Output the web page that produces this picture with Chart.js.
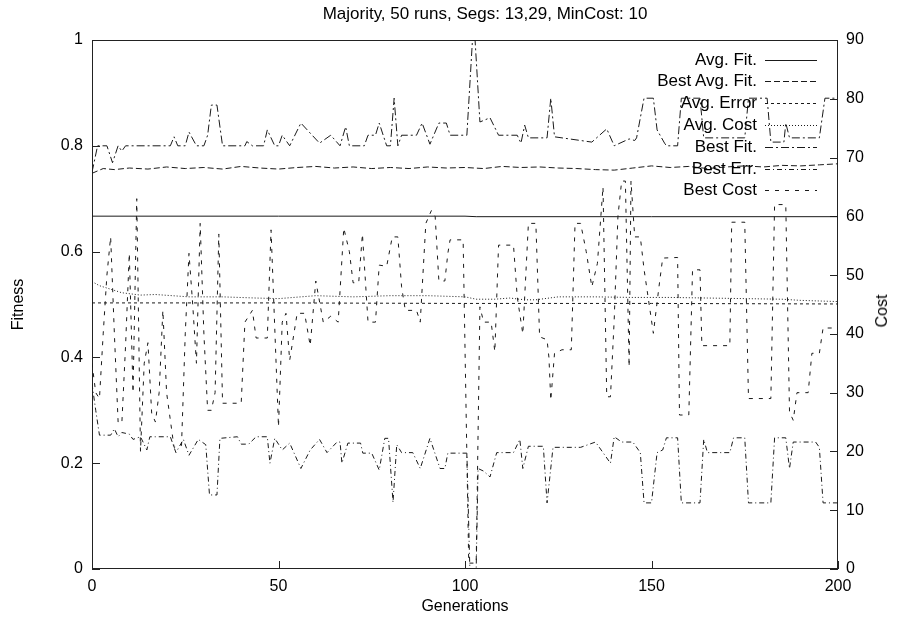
<!DOCTYPE html>
<html><head><meta charset="utf-8">
<script src="https://cdn.jsdelivr.net/npm/chart.js@4"></script>
<style>
html,body{margin:0;padding:0;background:#fff;}
#wrap{position:relative;width:897px;height:625px;overflow:hidden;font-family:"Liberation Sans",Arial,sans-serif;color:#000;}
canvas{display:block;}
.lt{position:absolute;font-size:17px;line-height:18px;white-space:nowrap;text-align:right;}
.ls{position:absolute;}
#title{position:absolute;top:4px;left:0;width:970px;text-align:center;font-size:17px;line-height:20px;white-space:nowrap;}
#costlab{position:absolute;left:882px;top:311px;font-size:16px;line-height:18px;white-space:nowrap;transform:translate(-50%,-50%) rotate(-90deg);}
</style></head><body>
<div id="wrap"><canvas id="c" width="897" height="625"></canvas>
<div id="title">Majority, 50 runs, Segs: 13,29, MinCost: 10</div>
<div id="costlab">Cost</div>
<div id="legend"></div></div>
<script>
// ---- tick labels ----
const genTicks = [0, 50, 100, 150, 200];
const fitnessTicks = [0, 0.2, 0.4, 0.6, 0.8, 1];
const costTicks = [0, 10, 20, 30, 40, 50, 60, 70, 80, 90];
const seriesNames = ["Avg. Fit.", "Best Avg. Fit.", "Avg. Error", "Avg. Cost", "Best Fit.", "Best Err.", "Best Cost"];

// ---- series (generation, value) ----
const avgFitGen = [0, 50, 100, 103, 150, 200];
const avgFitVal = [0.667, 0.667, 0.667, 0.666, 0.666, 0.666];

const bestAvgFitGen = [0, 3, 6, 10, 15, 20, 25, 30, 35, 40, 45, 50, 55, 60, 65, 70, 75, 80, 85, 90, 95, 100, 105, 110, 115, 120, 125, 130, 135, 140, 145, 150, 155, 160, 165, 170, 175, 180, 185, 190, 195, 200];
const bestAvgFitVal = [0.748, 0.757, 0.755, 0.758, 0.756, 0.760, 0.757, 0.759, 0.756, 0.761, 0.758, 0.756, 0.759, 0.761, 0.758, 0.760, 0.757, 0.759, 0.757, 0.760, 0.758, 0.759, 0.757, 0.761, 0.759, 0.760, 0.758, 0.757, 0.755, 0.754, 0.758, 0.762, 0.759, 0.761, 0.757, 0.760, 0.762, 0.760, 0.763, 0.762, 0.764, 0.766];

const avgErrGen = [0, 50, 100, 150, 200];
const avgErrVal = [0.503, 0.503, 0.502, 0.502, 0.501];

const avgCostGen = [0, 2, 5, 8, 13, 17, 26, 35, 44, 50, 60, 70, 80, 90, 100, 103, 108, 112, 116, 119, 125, 135, 145, 155, 165, 175, 185, 190, 195, 200];
const avgCostVal = [48.9, 48.2, 47.6, 47.0, 46.6, 46.7, 46.3, 46.3, 46.1, 46.0, 46.5, 46.3, 46.5, 46.5, 46.3, 45.9, 45.9, 46.1, 45.8, 45.8, 46.3, 46.3, 46.2, 46.2, 46.1, 46.0, 45.9, 45.7, 45.6, 45.5];

const bestFitGen = [0, 1.5, 4, 5.5, 7, 8, 9, 21, 22, 23, 25, 26, 28, 30, 31, 32, 33.5, 35, 41, 41.5, 43, 46, 47, 49, 50, 51, 53, 56, 61, 64, 66.5, 68, 69, 73, 74, 76, 77, 79, 80, 81, 82, 83, 87, 88.5, 90.6, 93, 95, 96, 100.5, 102, 102.7, 104, 106.7, 109, 114, 115, 116, 117, 122, 123, 124, 134, 138, 140, 144, 145.5, 146, 148, 150.5, 151.5, 153.5, 154, 157, 158, 163, 164, 175, 176, 181, 182, 185.5, 186, 187, 195, 196.5, 200];
const bestFitVal = [0.75, 0.80, 0.80, 0.768, 0.80, 0.79, 0.80, 0.80, 0.817, 0.80, 0.80, 0.826, 0.80, 0.80, 0.82, 0.877, 0.877, 0.80, 0.80, 0.808, 0.80, 0.80, 0.83, 0.80, 0.80, 0.82, 0.80, 0.843, 0.805, 0.82, 0.80, 0.836, 0.80, 0.80, 0.82, 0.82, 0.843, 0.80, 0.80, 0.89, 0.80, 0.82, 0.82, 0.843, 0.803, 0.843, 0.843, 0.82, 0.82, 1.0, 1.0, 0.845, 0.853, 0.82, 0.82, 0.805, 0.839, 0.815, 0.815, 0.89, 0.817, 0.807, 0.832, 0.80, 0.813, 0.81, 0.815, 0.89, 0.89, 0.83, 0.805, 0.80, 0.80, 0.89, 0.89, 0.815, 0.815, 0.89, 0.89, 0.807, 0.807, 0.843, 0.815, 0.815, 0.89, 0.89];

const bestErrGen = [0, 1, 2, 5, 6, 7, 8, 10, 11, 13, 14.7, 15.5, 17, 21, 22.5, 24.5, 26, 28.5, 30.5, 31.5, 33.5, 34.3, 39, 40, 42, 44, 47, 47.7, 49, 51, 53, 56, 58.5, 61, 63, 65.7, 66.5, 67, 68.6, 72, 72.6, 75, 77, 78.5, 79.5, 80.7, 81.7, 83, 86, 88, 90.6, 93.3, 94.6, 95.4, 100.5, 101.3, 103, 103.5, 105, 106.7, 108.5, 113, 114.7, 115.5, 117, 121, 122, 123.6, 131, 135, 139, 140, 142, 145, 147, 148, 150, 151.5, 153, 154, 157, 158, 163, 164, 165, 171, 172, 175, 176, 182, 183, 186, 187, 188, 194, 195, 196, 200];
const bestErrVal = [0.35, 0.30, 0.253, 0.253, 0.265, 0.25, 0.258, 0.255, 0.245, 0.25, 0.225, 0.25, 0.25, 0.25, 0.22, 0.245, 0.215, 0.245, 0.235, 0.14, 0.14, 0.247, 0.25, 0.236, 0.236, 0.25, 0.25, 0.20, 0.247, 0.225, 0.238, 0.19, 0.225, 0.245, 0.22, 0.24, 0.24, 0.20, 0.238, 0.238, 0.219, 0.219, 0.187, 0.247, 0.247, 0.126, 0.235, 0.22, 0.22, 0.19, 0.247, 0.19, 0.19, 0.219, 0.219, 0.0, 0.0, 0.19, 0.185, 0.174, 0.22, 0.22, 0.245, 0.19, 0.232, 0.232, 0.125, 0.23, 0.23, 0.24, 0.20, 0.25, 0.24, 0.24, 0.22, 0.125, 0.125, 0.22, 0.225, 0.248, 0.248, 0.125, 0.125, 0.245, 0.22, 0.22, 0.248, 0.248, 0.125, 0.125, 0.248, 0.248, 0.19, 0.24, 0.24, 0.23, 0.125, 0.125];

const bestCostGen = [0, 1, 2, 3, 4, 5, 6, 7, 8, 9, 10, 11, 12, 13, 14, 15, 16, 17, 18, 19, 20, 22, 24, 25, 26, 27, 28, 29, 30, 31, 32, 33, 34, 35, 40, 41, 43, 44, 47, 48, 50, 51, 52, 53, 55, 57, 58.5, 60, 62, 64, 66, 67.5, 69, 70, 71.5, 72.5, 74, 76, 77, 79, 80.5, 82, 83, 84, 87, 88, 89.5, 91, 92, 93, 94.6, 95.4, 96, 99.5, 101, 103, 104, 105, 107, 108, 109, 113, 114, 115.5, 117, 119, 120, 122, 122.5, 123, 124, 126, 128.5, 129.5, 131, 132.5, 134, 135.5, 137, 138, 139, 140, 141, 142, 143, 144, 144.5, 145.5, 147, 148, 150.5, 152, 153, 157, 157.5, 160, 161, 163, 163.5, 171, 171.5, 175, 176, 182, 183, 186, 187, 188, 189, 192, 193, 195, 196, 200];
const bestCostVal = [35, 30, 29, 40, 50, 56.5, 40, 25, 24.8, 38, 53.7, 30, 63, 20, 35, 38.5, 26.5, 25, 30, 44, 30, 20.7, 21, 40, 53.7, 45, 35, 58.8, 40, 27, 27, 30, 57, 28.2, 28.2, 42, 44, 39.3, 39.3, 57.7, 24.2, 42, 43.5, 35.5, 43.5, 43.5, 38, 49, 42, 43, 42, 58, 54, 48.7, 48.7, 57, 42, 42, 51.7, 51.5, 56.5, 56.5, 48, 44, 44, 42, 58.8, 61, 60, 49, 49, 53.7, 56, 56, 1, 1, 44.6, 42, 42, 37, 55.1, 55.1, 46.3, 40, 58.8, 58.8, 39.5, 39, 36, 28.7, 36.7, 37.3, 37.3, 58.8, 58.8, 54, 48, 52, 65, 29.3, 29.3, 42.4, 60, 66, 66, 34.4, 66, 56.5, 56.5, 51, 40.1, 48, 52.9, 53, 26.2, 26.2, 50.9, 50.9, 38, 38, 59, 59, 29, 29, 62, 62, 26.7, 25.3, 30, 30, 36.7, 36.7, 41, 41];

const pts = (g, v) => g.map((x, i) => ({x: x, y: v[i]}));

const styles = [
  {dash: []},
  {dash: [6, 3]},
  {dash: [3, 3]},
  {dash: [1, 2]},
  {dash: [8, 3, 2, 3]},
  {dash: [5, 3, 1, 3]},
  {dash: [4, 6]}
];

const seriesData = [
  {g: avgFitGen, v: avgFitVal, axis: 'y'},
  {g: bestAvgFitGen, v: bestAvgFitVal, axis: 'y'},
  {g: avgErrGen, v: avgErrVal, axis: 'y'},
  {g: avgCostGen, v: avgCostVal, axis: 'y2'},
  {g: bestFitGen, v: bestFitVal, axis: 'y'},
  {g: bestErrGen, v: bestErrVal, axis: 'y'},
  {g: bestCostGen, v: bestCostVal, axis: 'y2'}
];

const LINE = '#1a1a1a';
const FONT = "'Liberation Sans', Arial, sans-serif";

const datasets = seriesData.map((s, i) => ({
  label: seriesNames[i],
  data: pts(s.g, s.v),
  yAxisID: s.axis,
  borderColor: LINE,
  borderWidth: 1,
  borderDash: styles[i].dash,
  pointRadius: 0,
  tension: 0,
  fill: false
}));

const framePlugin = {
  id: 'frame',
  beforeDatasetsDraw(chart) {
    const {ctx, chartArea: a} = chart;
    ctx.save();
    ctx.strokeStyle = '#222';
    ctx.lineWidth = 1;
    ctx.setLineDash([]);
    ctx.strokeRect(Math.round(a.left) + 0.5, Math.round(a.top) + 0.5, Math.round(a.right - a.left) - 1, Math.round(a.bottom - a.top) - 1);
    const L = 8;
    ctx.beginPath();
    fitnessTicks.forEach(v => {
      const y = Math.round(chart.scales.y.getPixelForValue(v)) + 0.5;
      ctx.moveTo(a.left, y); ctx.lineTo(a.left + L, y);
    });
    costTicks.forEach(v => {
      const y = Math.round(chart.scales.y2.getPixelForValue(v)) + 0.5;
      ctx.moveTo(a.right, y); ctx.lineTo(a.right - L, y);
    });
    genTicks.forEach(v => {
      const x = Math.round(chart.scales.x.getPixelForValue(v)) + 0.5;
      ctx.moveTo(x, a.bottom); ctx.lineTo(x, a.bottom - L);
    });
    ctx.stroke();
    ctx.restore();
  }
};

Chart.defaults.font.family = FONT;
Chart.defaults.font.size = 16;
Chart.defaults.color = '#000';

new Chart(document.getElementById('c'), {
  type: 'line',
  data: {datasets: datasets},
  options: {
    responsive: false,
    animation: false,
    devicePixelRatio: 1,
    layout: {padding: {top: 40}},
    plugins: {
      legend: {display: false},
      tooltip: {enabled: false},
      title: {display: false}
    },
    scales: {
      x: {
        type: 'linear', min: 0, max: 200,
        afterBuildTicks: s => { s.ticks = genTicks.map(v => ({value: v})); },
        afterFit: s => { s.height = 56; },
        grid: {display: false, drawTicks: false},
        border: {display: false},
        ticks: {padding: 8, maxRotation: 0, font: {size: 16}, callback: v => String(v)},
        title: {display: true, text: 'Generations', font: {size: 16}, padding: {top: 0, bottom: 9}}
      },
      y: {
        type: 'linear', position: 'left', min: 0, max: 1,
        afterBuildTicks: s => { s.ticks = fitnessTicks.map(v => ({value: v})); },
        afterFit: s => { s.width = 92; },
        grid: {display: false, drawTicks: false},
        border: {display: false},
        ticks: {padding: 9, font: {size: 16}, callback: v => String(v)},
        title: {display: true, text: 'Fitness', font: {size: 16}, padding: {top: 9, bottom: 0}}
      },
      y2: {
        type: 'linear', position: 'right', min: 0, max: 90,
        afterBuildTicks: s => { s.ticks = costTicks.map(v => ({value: v})); },
        afterFit: s => { s.width = 59; },
        grid: {display: false, drawTicks: false},
        border: {display: false},
        ticks: {padding: 8, font: {size: 16}, callback: v => String(v)},
        title: {display: false}
      }
    }
  },
  plugins: [framePlugin]
});

// ---- gnuplot-style key ----
const legend = document.getElementById('legend');
const keyTop = 59.5, keyStep = 21.8, textRight = 757, sampleL = 765, sampleR = 817;
seriesNames.forEach((name, i) => {
  const cy = keyTop + i * keyStep;
  const t = document.createElement('div');
  t.className = 'lt';
  t.textContent = name;
  t.style.right = (897 - textRight) + 'px';
  t.style.top = (cy - 9) + 'px';
  legend.appendChild(t);
  const svgNS = 'http://www.w3.org/2000/svg';
  const svg = document.createElementNS(svgNS, 'svg');
  svg.setAttribute('class', 'ls');
  svg.setAttribute('width', sampleR - sampleL);
  svg.setAttribute('height', 3);
  svg.style.left = sampleL + 'px';
  svg.style.top = (Math.round(cy) - 1) + 'px';
  const ln = document.createElementNS(svgNS, 'line');
  ln.setAttribute('x1', 0); ln.setAttribute('x2', sampleR - sampleL);
  ln.setAttribute('y1', 1.5); ln.setAttribute('y2', 1.5);
  ln.setAttribute('stroke', LINE); ln.setAttribute('stroke-width', 1);
  if (styles[i].dash.length) ln.setAttribute('stroke-dasharray', styles[i].dash.join(' '));
  svg.appendChild(ln);
  legend.appendChild(svg);
});
</script>
</body></html>
